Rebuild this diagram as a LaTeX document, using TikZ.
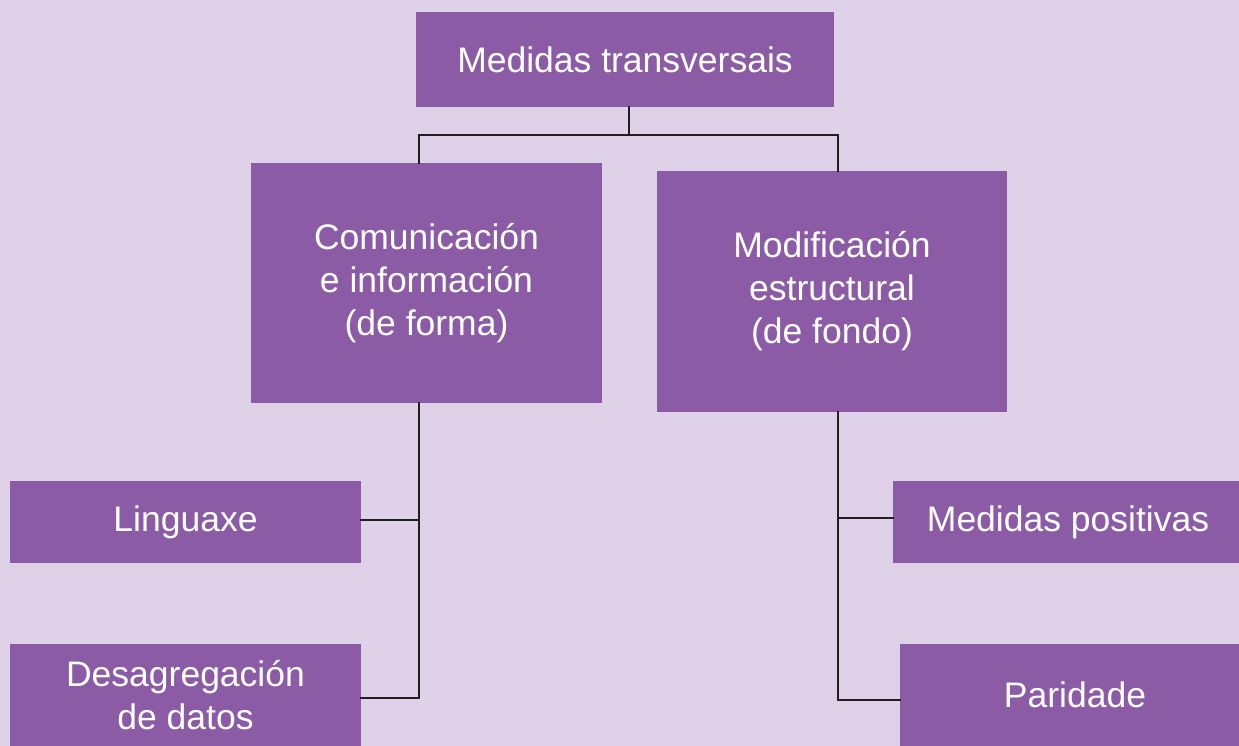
\documentclass[tikz,border=0pt]{standalone}
\usepackage{fontspec}
\setmainfont{Liberation Sans}
\definecolor{bgc}{HTML}{DFD2E8}
\definecolor{boxc}{HTML}{8B5CA5}
\definecolor{linec}{HTML}{231F20}
\begin{document}
\begin{tikzpicture}[x=1pt,y=-1pt,
  box/.style={fill=boxc,draw=none,text=white,inner sep=0pt,align=center,
    font=\fontsize{35.5}{43}\selectfont},
  conn/.style={draw=linec,line width=2.8pt,line cap=rect}]
\useasboundingbox (0,0) rectangle (1239,746);
\clip (0,0) rectangle (1239,746);
\fill[bgc] (0,0) rectangle (1239,746);
% boxes
\node[box,minimum width=418pt,minimum height=95pt] (top) at (625,59.5) {Medidas transversais};
\node[box,minimum width=351pt,minimum height=240pt] (com) at (426.5,283) {Comunicación\\e información\\(de forma)};
\node[box,minimum width=350pt,minimum height=241pt] (mod) at (832,291.5) {Modificación\\estructural\\(de fondo)};
\node[box,minimum width=351pt,minimum height=82pt] (ling) at (185.5,522) {Linguaxe};
\node[box,minimum width=351pt,minimum height=102pt] (desag) at (185.5,695) {Desagregación\\de datos};
\node[box,minimum width=350pt,minimum height=82pt] (medpos) at (1068,522) {Medidas positivas};
\node[box,minimum width=350pt,minimum height=102pt] (par) at (1075,695) {Paridade};
% junction coordinates
\coordinate (stem) at (629,107);
\coordinate (jl) at (419,135);
\coordinate (jr) at (838,135);
\coordinate (ll) at (419,698);
\coordinate (rr) at (838,700);
% connectors
\begin{scope}[on background layer/.try]
\draw[conn] (stem) -- (stem |- jl);
\draw[conn] (com.north -| jl) -- (jl) -- (jr) -- (mod.north -| jr);
\draw[conn] (com.south -| jl) -- (ll) -- (desag.east |- ll);
\draw[conn] ([yshift=2pt]ling.east) -- ([yshift=2pt]ling.east -| jl);
\draw[conn] (mod.south -| jr) -- (rr) -- (par.west |- rr);
\draw[conn] ([yshift=4pt]medpos.west) -- ([yshift=4pt]medpos.west -| jr);
\end{scope}
\end{tikzpicture}
\end{document}
